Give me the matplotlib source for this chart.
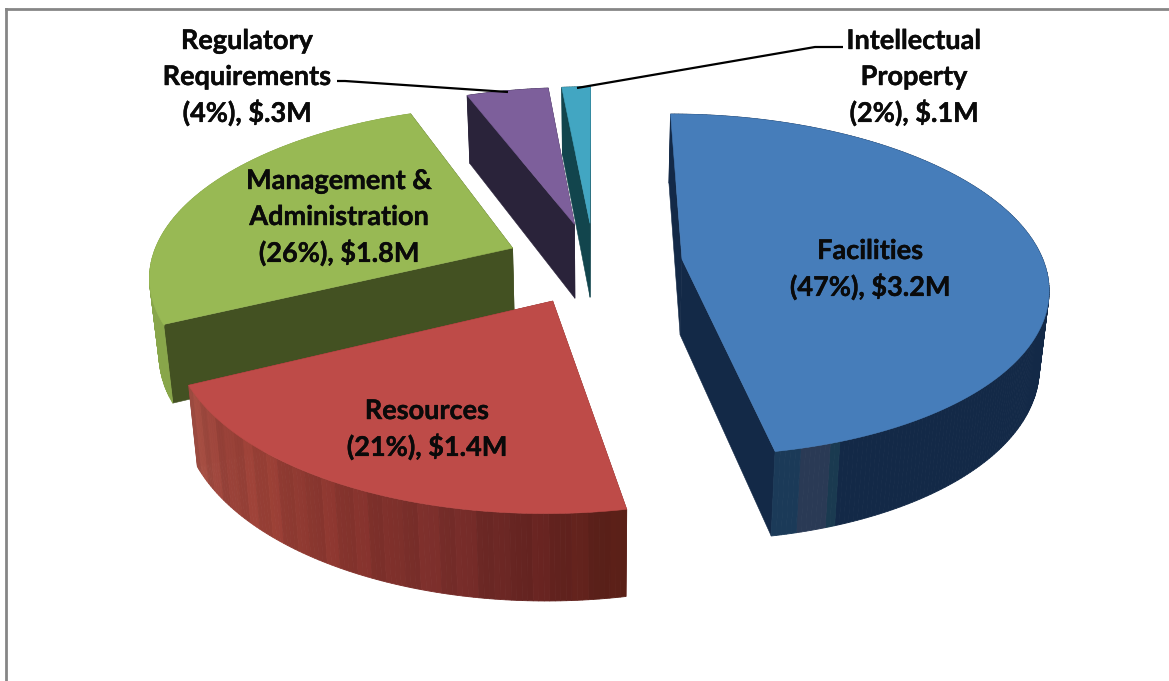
import numpy as np
import matplotlib
matplotlib.use("Agg")
import matplotlib.pyplot as plt
import matplotlib.patheffects as pe
from matplotlib.colors import to_rgb
from matplotlib.lines import Line2D

# ---- data ----
categories = ["Facilities", "Resources", "Management &\nAdministration",
              "Regulatory\nRequirements", "Intellectual\nProperty"]
shares = [47.05, 20.75, 26.4, 4.3, 1.5]
share_labels = [47, 21, 26, 4, 2]
amounts = ["$3.2M", "$1.4M", "$1.8M", "$.3M", "$.1M"]

# ---- style ----
top_colors = ["#467dba", "#be4b48", "#98b954", "#7d5f9b", "#42a6c2"]
cut_colors = ["#132947", "#7a2c28", "#435122", "#2a233a", "#12454d"]
wall_colors = ["#132947", "#85332d", "#88a64a", "#2a233a", "#12454d"]
label_xy = [(870, 251), (427, 411), (339, 181), (247, 41), (914, 41)]
LINE_PX = 36

# ---- projection of the exploded 3-D pie ----
CX, CY = 594.0, 263.0
A, B, H = 362.0, 168.0, 77.5
P, Q = 0.15, 0.022
EXPLODE = 0.245


def project(x, y, z):
    x, y, z = np.asarray(x, float), np.asarray(y, float), np.asarray(z, float)
    w = (1 + P * y) * (1 + Q * z)
    return CX + A * x / w, CY + (-B * y + H * z) / w


def mix(c, f):
    return tuple(min(1, v * f) for v in to_rgb(c))


def wall_shade(idx, t):
    """t runs 0..1 clockwise through the slice"""
    if idx == 0:
        if t > 0.977:
            return "#1b3a58"
        if t > 0.954:
            return "#2a3a55"
        if t > 0.946:
            return "#1a3a50"
        return "#132947"
    if idx == 1:
        stops = [0, .15, .3, .5, .7, .85, 1]
        cols = ["#5a2017", "#652320", "#752c29", "#85332d", "#983f35", "#9a433a", "#a24f43"]
        rgb = [to_rgb(c) for c in cols]
        col = [np.interp(t, stops, [r[i] for r in rgb]) for i in range(3)]
        pattern = [1.0, 0.96, 1.03, 0.98, 1.04, 0.97]
        return mix(col, pattern[int(t * 30) % 6])
    return wall_colors[idx]


fig = plt.figure(figsize=(11.69, 6.81), dpi=100)
ax = fig.add_axes([0, 0, 1, 1])
ax.set_xlim(0, 1169)
ax.set_ylim(681, 0)
ax.axis("off")

fractions = np.array(shares, float) / sum(shares)
edges = np.concatenate([[0], np.cumsum(fractions)]) * 2 * np.pi

draw_order = [4, 3, 2, 1, 0]
for i in draw_order:
    a0, a1 = edges[i], edges[i + 1]
    mid = (a0 + a1) / 2
    ex, ey = EXPLODE * np.sin(mid), EXPLODE * np.cos(mid)
    th = np.linspace(a0, a1, max(12, int((a1 - a0) * 80)))
    xs, ys = ex + np.sin(th), ey + np.cos(th)

    # the two cut faces
    for px, py in ((xs[0], ys[0]), (xs[-1], ys[-1])):
        sx, sy = project([ex, px, px, ex], [ey, py, py, ey], [0, 0, 1, 1])
        ax.fill(sx, sy, color=cut_colors[i], lw=0.4, zorder=1)

    # outer wall strips, far ones first
    order = np.argsort(-(ys[:-1] + ys[1:]))
    for k in order:
        qx = [xs[k], xs[k + 1], xs[k + 1], xs[k]]
        qy = [ys[k], ys[k + 1], ys[k + 1], ys[k]]
        qz = [0, 0, 1, 1]
        sx, sy = project(qx, qy, qz)
        c = wall_shade(i, (k + 0.5) / (len(th) - 1))
        ax.fill(sx, sy, color=c, lw=0.6, zorder=1)

    # top surface
    sx, sy = project(np.r_[ex, xs], np.r_[ey, ys], np.zeros(len(xs) + 1))
    ax.fill(sx, sy, color=top_colors[i], lw=0.4, zorder=1)

# leader lines
ax.plot([337, 345, 508], [81, 81, 92], color="black", lw=1.6, zorder=3, solid_capstyle="butt")
ax.plot([843, 815, 577], [47, 47, 88], color="black", lw=1.6, zorder=3, solid_capstyle="butt")

# labels
for name, sh, am, (x, y) in zip(categories, share_labels, amounts, label_xy):
    lines = name.split("\n") + [f"({sh}%), {am}"]
    for n, line in enumerate(lines):
        ax.text(x, y + n * LINE_PX, line, ha="center", va="center",
                family=["Lato", "DejaVu Sans"], fontweight="bold", fontsize=19.5,
                color="#0a0a0a", zorder=4,
                path_effects=[pe.withStroke(linewidth=0.3, foreground="#0a0a0a")])

# chart frame
frame = "#868686"
fig.add_artist(Line2D([6 / 1169, 6 / 1169], [0, 1 - 9 / 681], color=frame, lw=2))
fig.add_artist(Line2D([6 / 1169, 1], [1 - 9 / 681, 1 - 9 / 681], color=frame, lw=2))

fig.savefig("out.png", dpi=100)
